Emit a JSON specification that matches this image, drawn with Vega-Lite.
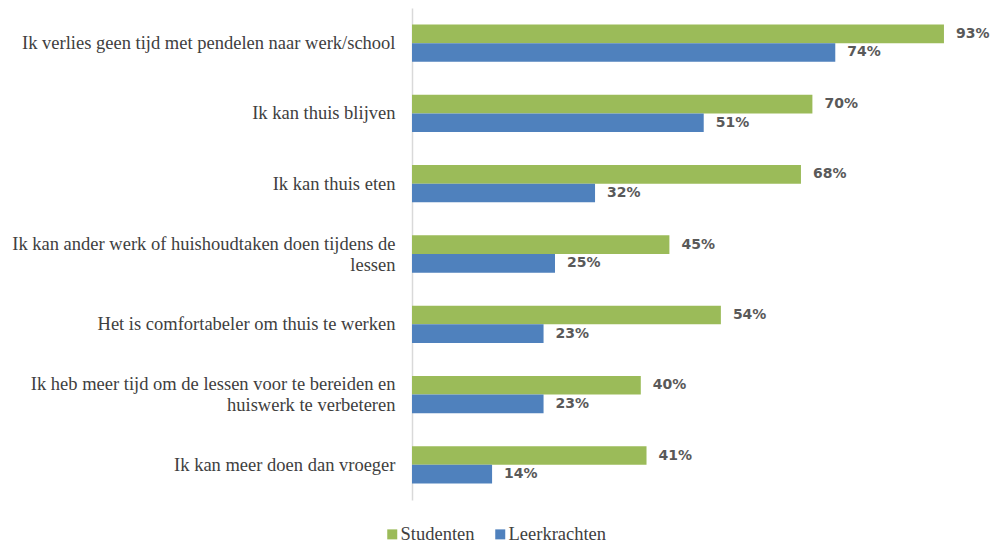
{
  "$schema": "https://vega.github.io/schema/vega-lite/v6.json",
  "autosize": {"type": "none"},
  "width": 572,
  "height": 492,
  "padding": {"left": 412, "top": 8, "right": 10, "bottom": 44},
  "background": "white",
  "data": {
    "values": [
      {"cat": "Ik verlies geen tijd met pendelen naar werk/school", "groep": "Studenten", "v": 0.93},
      {"cat": "Ik verlies geen tijd met pendelen naar werk/school", "groep": "Leerkrachten", "v": 0.74},
      {"cat": "Ik kan thuis blijven", "groep": "Studenten", "v": 0.70},
      {"cat": "Ik kan thuis blijven", "groep": "Leerkrachten", "v": 0.51},
      {"cat": "Ik kan thuis eten", "groep": "Studenten", "v": 0.68},
      {"cat": "Ik kan thuis eten", "groep": "Leerkrachten", "v": 0.32},
      {"cat": "Ik kan ander werk of huishoudtaken doen tijdens de\nlessen", "groep": "Studenten", "v": 0.45},
      {"cat": "Ik kan ander werk of huishoudtaken doen tijdens de\nlessen", "groep": "Leerkrachten", "v": 0.25},
      {"cat": "Het is comfortabeler om thuis te werken", "groep": "Studenten", "v": 0.54},
      {"cat": "Het is comfortabeler om thuis te werken", "groep": "Leerkrachten", "v": 0.23},
      {"cat": "Ik heb meer tijd om de lessen voor te bereiden en\nhuiswerk te verbeteren", "groep": "Studenten", "v": 0.40},
      {"cat": "Ik heb meer tijd om de lessen voor te bereiden en\nhuiswerk te verbeteren", "groep": "Leerkrachten", "v": 0.23},
      {"cat": "Ik kan meer doen dan vroeger", "groep": "Studenten", "v": 0.41},
      {"cat": "Ik kan meer doen dan vroeger", "groep": "Leerkrachten", "v": 0.14}
    ]
  },
  "encoding": {
    "y": {
      "field": "cat",
      "type": "nominal",
      "sort": null,
      "scale": {"paddingInner": 0.47, "paddingOuter": 0.235},
      "axis": {
        "title": null,
        "domain": true,
        "domainColor": "#d9d9d9",
        "domainWidth": 1.5,
        "ticks": false,
        "labelPadding": 17,
        "labelLineHeight": 21,
        "labelLimit": 420,
        "labelOffset": {"condition": {"test": "indexof(datum.value, '\\n') >= 0", "value": -10.5}, "value": 0},
        "labelExpr": "split(datum.value, '\\n')"
      }
    },
    "yOffset": {"field": "groep", "type": "nominal", "sort": ["Studenten", "Leerkrachten"]},
    "x": {
      "field": "v",
      "type": "quantitative",
      "scale": {"domain": [0, 1], "nice": false},
      "axis": null
    }
  },
  "layer": [
    {
      "mark": {"type": "bar"},
      "encoding": {
        "color": {
          "field": "groep",
          "type": "nominal",
          "sort": ["Studenten", "Leerkrachten"],
          "scale": {"domain": ["Studenten", "Leerkrachten"], "range": ["#9BBB59", "#4F81BD"]},
          "legend": {
            "title": null,
            "orient": "none",
            "legendX": -29,
            "legendY": 517,
            "direction": "horizontal",
            "symbolType": "square",
            "symbolSize": 100,
            "symbolStrokeWidth": 0,
            "columnPadding": 16,
            "labelOffset": -1
          }
        }
      }
    },
    {
      "mark": {"type": "text", "align": "left", "baseline": "middle", "dx": 12, "font": "DejaVu Sans", "fontWeight": "bold", "fontSize": 14, "color": "#595959"},
      "encoding": {
        "text": {"field": "v", "type": "quantitative", "format": ".0%"}
      }
    }
  ],
  "config": {
    "view": {"stroke": null},
    "axis": {"labelFont": "Liberation Serif", "labelFontSize": 18.5, "labelColor": "#404040"},
    "legend": {"labelFont": "Liberation Serif", "labelFontSize": 18.5, "labelColor": "#404040"}
  }
}
